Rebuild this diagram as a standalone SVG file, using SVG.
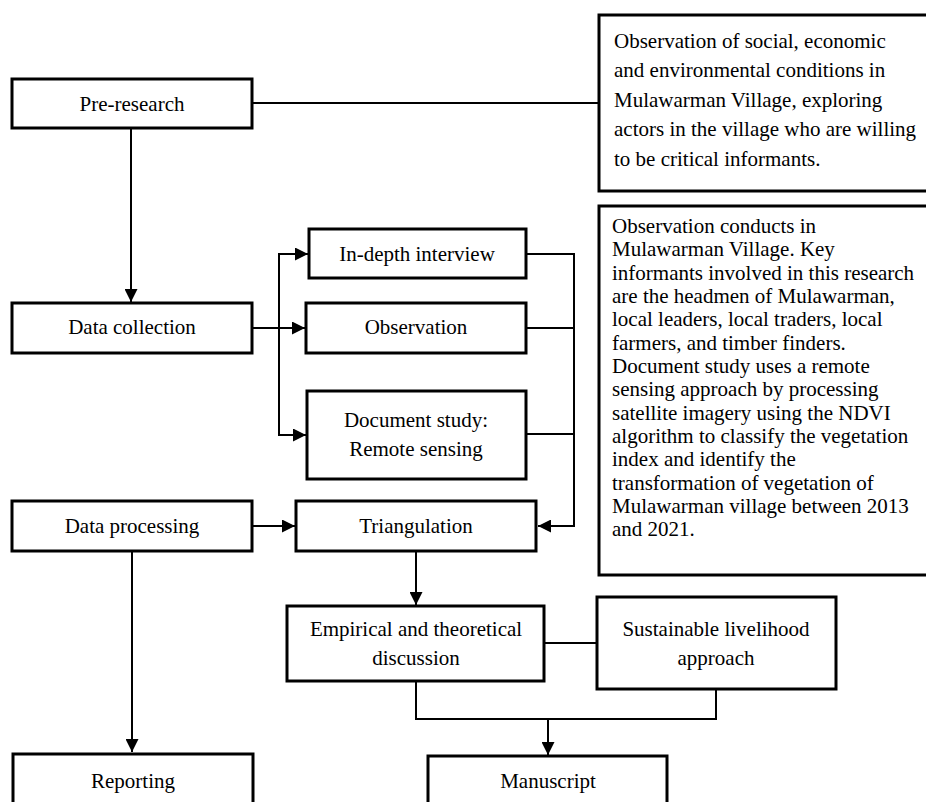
<svg xmlns="http://www.w3.org/2000/svg" width="926" height="802" viewBox="0 0 926 802" font-family="'Liberation Serif', 'Times New Roman', 'DejaVu Serif', serif">
<defs>
<style>
.box{fill:#fff;stroke:#000;stroke-width:3}
.ln{fill:none;stroke:#000;stroke-width:2}
text{font-family:'Liberation Serif','Times New Roman','DejaVu Serif',serif;font-size:21px;fill:#000}
.c{text-anchor:middle}
</style>
<marker id="arr" markerUnits="userSpaceOnUse" markerWidth="13" markerHeight="13" refX="13" refY="6.5" orient="auto">
<path d="M0,0 L13,6.5 L0,13 z" fill="#000"/>
</marker>
</defs>
<rect width="926" height="802" fill="#fff"/>
<g id="connectors">
<line class="ln" x1="252" y1="103" x2="599" y2="103"/>
<line class="ln" x1="131" y1="128" x2="131" y2="302" marker-end="url(#arr)"/>
<line class="ln" x1="252" y1="328" x2="305" y2="328" marker-end="url(#arr)"/>
<polyline class="ln" points="308,254 279,254 279,435 306,435"/>
<line class="ln" x1="279" y1="254" x2="308" y2="254" marker-end="url(#arr)"/>
<line class="ln" x1="279" y1="435" x2="306" y2="435" marker-end="url(#arr)"/>
<polyline class="ln" points="526,254 574,254 574,526 538,526" marker-end="url(#arr)"/>
<line class="ln" x1="526" y1="328" x2="574" y2="328"/>
<line class="ln" x1="526" y1="434" x2="574" y2="434"/>
<line class="ln" x1="252" y1="526" x2="295" y2="526" marker-end="url(#arr)"/>
<line class="ln" x1="132" y1="551" x2="132" y2="752" marker-end="url(#arr)"/>
<line class="ln" x1="416" y1="551" x2="416" y2="605" marker-end="url(#arr)"/>
<line class="ln" x1="544" y1="643" x2="597" y2="643"/>
<polyline class="ln" points="416,681 416,719 716,719 716,689"/>
<line class="ln" x1="548" y1="719" x2="548" y2="755" marker-end="url(#arr)"/>
</g>
<g id="pre-research">
<rect class="box" x="12" y="79" width="240" height="49"/>
<text class="c" x="132" y="111">Pre-research</text>
</g>
<g id="pre-note">
<rect class="box" x="599" y="15" width="340" height="176"/>
<text x="614" y="48">Observation of social, economic</text>
<text x="614" y="77">and environmental conditions in</text>
<text x="614" y="107">Mulawarman Village, exploring</text>
<text x="614" y="136">actors in the village who are willing</text>
<text x="614" y="166">to be critical informants.</text>
</g>
<g id="collection-note">
<rect class="box" x="599" y="206" width="340" height="369"/>
<text x="612" y="233">Observation conducts in</text>
<text x="612" y="256">Mulawarman Village. Key</text>
<text x="612" y="280">informants involved in this research</text>
<text x="612" y="303">are the headmen of Mulawarman,</text>
<text x="612" y="326">local leaders, local traders, local</text>
<text x="612" y="350">farmers, and timber finders.</text>
<text x="612" y="373">Document study uses a remote</text>
<text x="612" y="396">sensing approach by processing</text>
<text x="612" y="420">satellite imagery using the NDVI</text>
<text x="612" y="443">algorithm to classify the vegetation</text>
<text x="612" y="466">index and identify the</text>
<text x="612" y="490">transformation of vegetation of</text>
<text x="612" y="513">Mulawarman village between 2013</text>
<text x="612" y="536">and 2021.</text>
</g>
<g id="in-depth">
<rect class="box" x="309" y="229" width="217" height="49"/>
<text class="c" x="417" y="261">In-depth interview</text>
</g>
<g id="data-collection">
<rect class="box" x="12" y="303" width="240" height="50"/>
<text class="c" x="132" y="334">Data collection</text>
</g>
<g id="observation">
<rect class="box" x="306" y="303" width="220" height="50"/>
<text class="c" x="416" y="334">Observation</text>
</g>
<g id="document-study">
<rect class="box" x="307" y="391" width="219" height="88"/>
<text class="c" x="416" y="427">Document study:</text>
<text class="c" x="416" y="456">Remote sensing</text>
</g>
<g id="data-processing">
<rect class="box" x="12" y="501" width="240" height="50"/>
<text class="c" x="132" y="533">Data processing</text>
</g>
<g id="triangulation">
<rect class="box" x="296" y="501" width="240" height="50"/>
<text class="c" x="416" y="533">Triangulation</text>
</g>
<g id="empirical">
<rect class="box" x="287" y="606" width="257" height="75"/>
<text class="c" x="416" y="636">Empirical and theoretical</text>
<text class="c" x="416" y="665">discussion</text>
</g>
<g id="sustainable">
<rect class="box" x="597" y="597" width="239" height="92"/>
<text class="c" x="716" y="636">Sustainable livelihood</text>
<text class="c" x="716" y="665">approach</text>
</g>
<g id="reporting">
<rect class="box" x="13" y="754" width="240" height="60"/>
<text class="c" x="133" y="788">Reporting</text>
</g>
<g id="manuscript">
<rect class="box" x="428" y="756" width="239" height="60"/>
<text class="c" x="548" y="788">Manuscript</text>
</g>
</svg>
